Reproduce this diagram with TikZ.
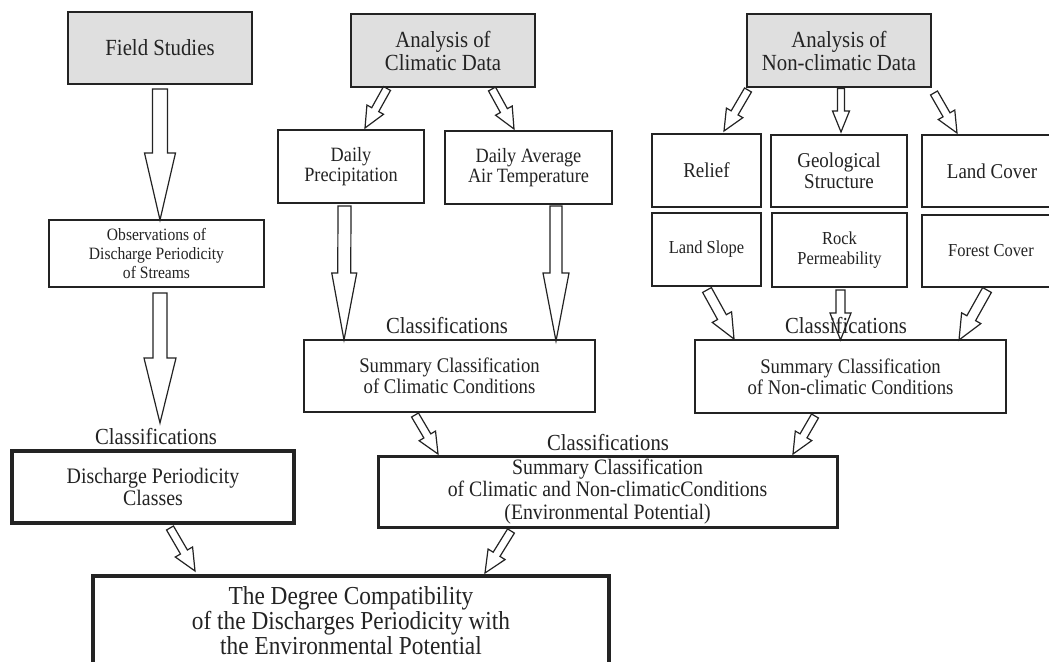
\documentclass[tikz,border=0pt]{standalone}
\usepackage{fontspec}
\setmainfont[FakeStretch=0.9]{Liberation Serif}
\usetikzlibrary{calc}
\definecolor{boxgray}{RGB}{223,223,223}
\definecolor{ink}{RGB}{35,35,35}
\newcommand\fsz[2]{\fontsize{#1}{#2}\selectfont}
% block arrow: start, tip, shaft half width, head half width, head length
\newcommand\barrow[5]{%
  \coordinate (bS) at (#1);
  \coordinate (bE) at (#2);
  \coordinate (bH) at ($(bE)!#5pt!(bS)$);
  \draw[blk] ($(bS)!#3pt!90:(bE)$) -- ($(bH)!#3pt!90:(bE)$) -- ($(bH)!#4pt!90:(bE)$) -- (bE)
     -- ($(bH)!#4pt!-90:(bE)$) -- ($(bH)!#3pt!-90:(bE)$) -- ($(bS)!#3pt!-90:(bE)$) -- cycle;
}
\tikzset{
  box/.style={draw=ink, line width=1.3pt, align=center, inner sep=0pt, outer sep=0pt, text=ink},
  gbox/.style={box, fill=boxgray},
  blk/.style={draw=ink, line width=1.2pt, line join=miter},
  lbl/.style={inner sep=0pt, text=ink, font=\fsz{23}{24}},
}
\begin{document}
\begin{tikzpicture}[x=1pt, y=-1pt]
\useasboundingbox (0,0) rectangle (1049,661);
\clip (0,0) rectangle (1049,661);
\fill[white] (0,0) rectangle (1049,661);

% top gray boxes
\node[gbox, minimum width=184pt, minimum height=72pt, font=\fsz{23.1}{23}] (fs) at (160,48) {Field Studies};
\node[gbox, minimum width=184pt, minimum height=73pt, font=\fsz{23.1}{23}] (acd) at (443,50.5) {Analysis of\\Climatic Data};
\node[gbox, minimum width=184pt, minimum height=73pt, font=\fsz{23.1}{23}] (and) at (839,50.5) {Analysis of\\Non-climatic Data};

% second level
\node[box, minimum width=215pt, minimum height=67pt, font=\fsz{17.3}{19}] (obs) at (156.5,253.5) {Observations of\\Discharge Periodicity\\of Streams};
\node[box, minimum width=146pt, minimum height=73pt, font=\fsz{20.3}{19.5}] (dp) at (351,166.5) {Daily\\Precipitation};
\node[box, minimum width=167pt, minimum height=73pt, font=\fsz{20.3}{19.5}] (dat) at (528.5,167.5) {Daily Average\\Air Temperature};
\node[box, minimum width=109pt, minimum height=73pt, font=\fsz{21.1}{21}] (rel) at (706.5,170.5) {Relief};
\node[box, minimum width=136pt, minimum height=72pt, font=\fsz{21.1}{21}] (geo) at (839,171) {Geological\\Structure};
\node[box, minimum width=140pt, minimum height=72pt, font=\fsz{21.1}{21}] (lc) at (992,171) {Land Cover};
\node[box, minimum width=109pt, minimum height=73pt, font=\fsz{18.3}{20}] (ls) at (706.5,249.5) {Land Slope};
\node[box, minimum width=135pt, minimum height=74pt, font=\fsz{18.3}{20}] (rp) at (839.5,250) {Rock\\Permeability};
\node[box, minimum width=138pt, minimum height=72pt, font=\fsz{18.3}{20}] (fc) at (991,251) {Forest Cover};

% summaries
\node[box, line width=2.4pt, minimum width=291pt, minimum height=72pt, font=\fsz{20.8}{21}] (scc) at (449.5,376) {Summary Classification\\of Climatic Conditions};
\node[box, line width=2.4pt, minimum width=311pt, minimum height=73pt, font=\fsz{20.8}{21}] (snc) at (850.5,376.5) {Summary Classification\\of Non-climatic Conditions};
\node[box, line width=3pt, minimum width=459pt, minimum height=71pt, font=\fsz{22}{22.5}] (comb) at (607.5,491.5) {Summary Classification\\of Climatic and Non-climaticConditions\\(Environmental Potential)};
\node[box, line width=3.4pt, minimum width=282pt, minimum height=72pt, font=\fsz{22.1}{22}] (dpc) at (153,487) {Discharge Periodicity\\Classes};
\node[box, line width=4.5pt, minimum width=516pt, minimum height=90pt, font=\fsz{25.9}{25}] (deg) at (351,621) {The Degree Compatibility\\of the Discharges Periodicity with\\the Environmental Potential};

% labels
\node[lbl] (cl1) at (156,437) {Classifications};
\node[lbl] (cl2) at (447,325.5) {Classifications};
\node[lbl] (cl3) at (846,325.5) {Classifications};
\node[lbl] (cl4) at (608,442.5) {Classifications};

% block arrows
\barrow{[shift={(0,5)}]fs.south}{[shift={(3.5,0)}]obs.north}{7.5}{15.5}{67}
\barrow{[shift={(3.5,6)}]obs.south}{[shift={(7,-28)}]dpc.north}{7}{16}{65}
\barrow{[shift={(-56,1.5)}]acd.south}{[shift={(14,-2)}]dp.north}{4}{9.5}{21}
\barrow{[shift={(49,2)}]acd.south}{[shift={(-14.5,-2)}]dat.north}{4}{9.5}{21}
\barrow{[shift={(-91,3)}]and.south}{[shift={(17.5,-3)}]rel.north}{4}{9.5}{21}
\barrow{[shift={(2,1.5)}]and.south}{[shift={(2,-3)}]geo.north}{3.5}{8.5}{21}
\barrow{[shift={(95,6)}]and.south}{[shift={(-35,-2)}]lc.north}{4}{9.5}{21}
\barrow{[shift={(-6.5,3)}]dp.south}{[shift={(-105.5,0)}]scc.north}{6.5}{12.5}{67}
\barrow{[shift={(27.5,2)}]dat.south}{[shift={(106.5,1)}]scc.north}{6}{13}{68}
\barrow{[shift={(0.5,4)}]ls.south}{[shift={(-116.5,-1)}]snc.north}{5}{11}{25}
\barrow{[shift={(1,3)}]rp.south}{[shift={(-10,0)}]snc.north}{4.5}{10.5}{27}
\barrow{[shift={(-4,3)}]fc.south}{[shift={(108.5,0)}]snc.north}{5}{11}{25}
\barrow{[shift={(-34.5,3)}]scc.south}{[shift={(-169.5,-2)}]comb.north}{4}{9.5}{21}
\barrow{[shift={(-35.5,3)}]snc.south}{[shift={(185.5,-2)}]comb.north}{4}{9.5}{21}
\barrow{[shift={(17,5)}]dpc.south}{[shift={(-156,-5)}]deg.north}{4}{10}{22}
\barrow{[shift={(-96.5,4)}]comb.south}{[shift={(134,-3)}]deg.north}{4}{10}{22}
\end{tikzpicture}
\end{document}
